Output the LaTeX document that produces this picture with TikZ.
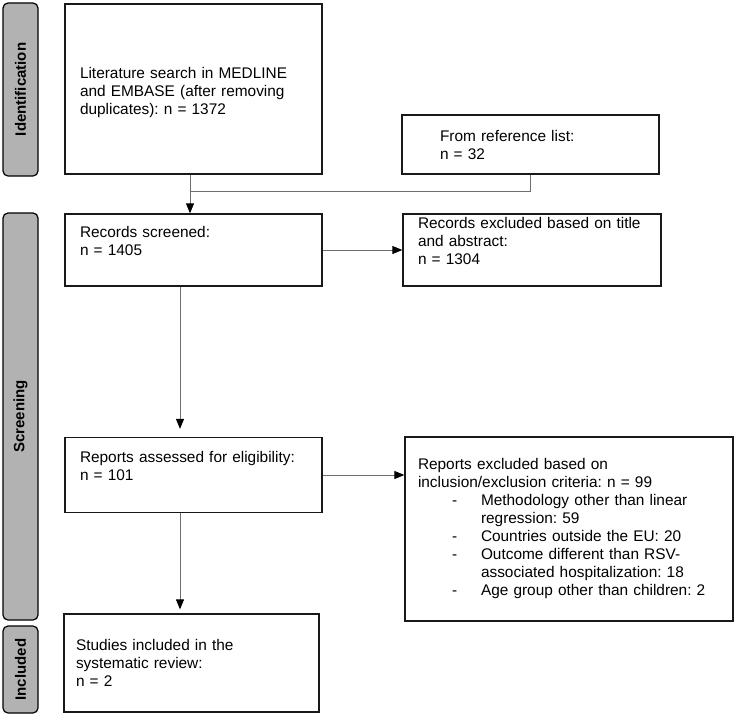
\documentclass[tikz,border=0pt]{standalone}
\usepackage{fontspec}
\setmainfont{Liberation Sans}
\usetikzlibrary{arrows.meta}
\newcommand\mainsz{\fontsize{15.4}{18}\selectfont\frenchspacing}
\newcommand\sidesz{\fontsize{15}{18}\selectfont\bfseries}
\newcommand\itm{\hspace*{34pt}\makebox[29pt][l]{-}}
\newcommand\cnt{\hspace*{63pt}}
\newcommand\padline{\\\mbox{}}
\definecolor{sidegray}{RGB}{178,178,178}
\definecolor{conngray}{RGB}{110,110,110}
\begin{document}
\begin{tikzpicture}[x=1pt,y=-1pt,
  fbox/.style={draw=black!90, line width=1.3pt, inner ysep=0pt, align=left, anchor=center, font=\mainsz},
  side/.style={draw=black, line width=1.2pt, fill=sidegray, rounded corners=5pt, rotate=90, minimum height=35pt, inner sep=0pt, font=\sidesz, anchor=center},
  conn/.style={draw=conngray, line width=0.9pt},
  arr/.style={-{Triangle[length=10pt,width=8pt,color=black]}}
]
\useasboundingbox (0,0) rectangle (736,718);
% side bars
\node[side, minimum width=173pt] (sid) at (20.5,89.5) {Identification};
\node[side, minimum width=407pt] (ssc) at (20.5,416.5) {Screening};
\node[side, minimum width=87pt] (sin) at (20.5,669.5) {Included};
% boxes
\node[fbox, text width=227pt, inner xsep=15pt, minimum height=170pt] (lit) at (193.5,89)
  {Literature search in MEDLINE\\and EMBASE (after removing\\duplicates): n = 1372\\[-22pt]\mbox{}};
\node[fbox, text width=181pt, inner xsep=38pt, minimum height=59pt] (ref) at (530.5,144.5)
  {From reference list:\\n = 32};
\node[fbox, text width=227pt, inner xsep=15pt, minimum height=72pt] (scr) at (193.5,250)
  {Records screened:\\n = 1405\padline};
\node[fbox, text width=228pt, inner xsep=15pt, minimum height=72pt] (rex) at (532,250)
  {Records excluded based on title\\and abstract:\\n = 1304\padline};
\node[fbox, text width=227pt, inner xsep=15pt, minimum height=75pt] (ass) at (193.5,475)
  {Reports assessed for eligibility:\\n = 101\padline};
\node[fbox, text width=302pt, inner xsep=13pt, minimum height=184pt] (pex) at (569,529)
  {Reports excluded based on\\inclusion/exclusion criteria: n = 99\\
   \itm Methodology other than linear\\
   \cnt regression: 59\\
   \itm Countries outside the EU: 20\\
   \itm Outcome different than RSV-\\
   \cnt associated hospitalization: 18\\
   \itm Age group other than children: 2};
\node[fbox, text width=231pt, inner xsep=12pt, minimum height=98pt] (stu) at (191.5,663)
  {Studies included in the\\systematic review:\\n = 2};
% connectors
\coordinate (j) at (190,191);
\coordinate (k) at (180,0);
\draw[conn] (j |- lit.south) -- (j) -- (j -| ref.south) -- (ref.south);
\draw[conn,arr] (j) -- (j |- scr.north);
\draw[conn,arr] (scr.east) -- (rex.west |- scr.east);
\draw[conn,arr,shorten >=8pt] (k |- scr.south) -- (k |- ass.north);
\draw[conn,arr] (ass.east) -- (pex.west |- ass.east);
\draw[conn,arr,shorten >=4pt] (k |- ass.south) -- (k |- stu.north);
\end{tikzpicture}
\end{document}
